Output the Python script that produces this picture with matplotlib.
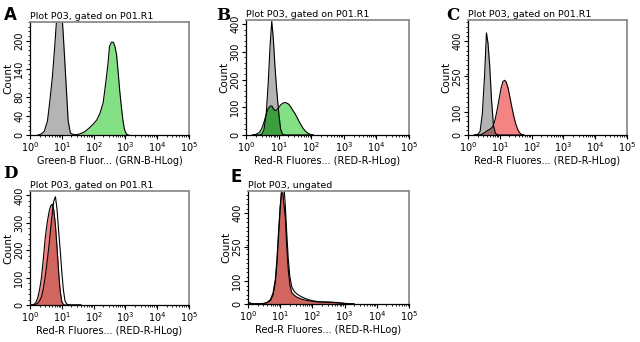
import matplotlib.pyplot as plt
import numpy as np
from matplotlib.ticker import LogLocator, MultipleLocator, FixedLocator, NullFormatter

# histogram bin positions are given in decades (log10 of fluorescence)

# panel A
a_gray_x = [0.25, 0.35, 0.45, 0.55, 0.62, 0.70, 0.78, 0.85, 0.92, 0.98, 1.04, 1.10, 1.15, 1.20, 1.27, 1.40]
a_gray_y = [0, 2, 8, 30, 70, 120, 190, 260, 300, 280, 220, 150, 90, 30, 4, 0]
a_green_x = [1.40, 1.55, 1.70, 1.85, 2.00, 2.10, 2.20, 2.30, 2.38, 2.45, 2.50, 2.56, 2.62, 2.67,
             2.72, 2.77, 2.82, 2.87, 2.92, 2.97, 3.03, 3.10]
a_green_y = [0, 2, 6, 14, 24, 32, 46, 68, 110, 150, 188, 197, 197, 188, 172, 135, 95, 62, 32, 12, 2, 0]

# panel B
b_x = [0.20, 0.30, 0.40, 0.48, 0.55, 0.62, 0.68, 0.74, 0.79, 0.84, 0.89, 0.94, 1.00, 1.06, 1.12,
       1.18, 1.24, 1.30, 1.36, 1.42, 1.50, 1.58, 1.66, 1.74, 1.82, 1.90, 1.98, 2.06]
b_gray = [0, 0, 0, 3, 18, 75, 185, 325, 410, 345, 245, 165, 85, 22, 3,
          0, 0, 0, 0, 0, 0, 0, 0, 0, 0, 0, 0, 0]
b_green = [0, 2, 8, 22, 45, 75, 95, 104, 105, 95, 88, 90, 98, 108, 114,
           117, 116, 112, 104, 92, 78, 60, 42, 26, 14, 6, 2, 0]

# panel C
c_x = [0.20, 0.30, 0.38, 0.45, 0.52, 0.58, 0.63, 0.68, 0.74, 0.80, 0.86, 0.92, 0.98, 1.04, 1.10,
       1.15, 1.20, 1.26, 1.32, 1.38, 1.44, 1.50, 1.56, 1.62, 1.68, 1.75]
c_gray = [0, 2, 15, 90, 250, 435, 390, 300, 150, 40, 8, 1, 0, 0, 0,
          0, 0, 0, 0, 0, 0, 0, 0, 0, 0, 0]
c_red = [0, 0, 1, 4, 10, 16, 20, 24, 30, 42, 70, 110, 155, 200, 228,
         233, 226, 200, 160, 118, 80, 48, 25, 10, 3, 0]

# panel D
d_x = [0.05, 0.12, 0.18, 0.24, 0.30, 0.36, 0.42, 0.48, 0.54, 0.60, 0.65, 0.70, 0.75, 0.80, 0.85,
       0.90, 0.95, 1.00, 1.05, 1.10, 1.16, 1.24, 1.35, 1.60]
d_red = [0, 2, 8, 25, 55, 100, 170, 245, 300, 340, 362, 368, 345, 290, 210,
         120, 50, 12, 2, 0, 0, 0, 0, 0]
d_ctrl = [0, 0, 2, 6, 15, 30, 60, 105, 160, 220, 280, 335, 380, 395, 350,
          270, 200, 120, 55, 15, 3, 0, 0, 0]

# panel E
e_x = [0.00, 0.05, 0.10, 0.20, 0.35, 0.50, 0.60, 0.70, 0.78, 0.85, 0.90, 0.95, 1.00, 1.04, 1.08,
       1.12, 1.16, 1.20, 1.25, 1.30, 1.36, 1.44, 1.52, 1.62, 1.75, 1.90, 2.05, 2.20, 2.40, 2.60,
       2.80, 3.00, 3.15, 3.30]
e_red = [6, 5, 2, 1, 1, 3, 8, 20, 50, 110, 200, 320, 430, 485, 490,
         430, 380, 260, 150, 85, 50, 38, 30, 24, 18, 14, 11, 9, 8, 7,
         5, 2, 1, 0]
e_ctrl = [7, 5, 2, 1, 1, 2, 6, 15, 40, 95, 180, 300, 420, 500, 530,
          510, 430, 320, 200, 120, 75, 55, 44, 35, 26, 18, 13, 10, 9, 8,
          6, 3, 1, 0]

fig = plt.figure(figsize=(6.4, 3.42), dpi=100)


def make_axes(x0, y0, x1, y1, ymax, yticks, yminor, title, xlabel, letter, lx, ly, lfam):
    ax = fig.add_axes([x0 / 640, 1 - y1 / 342, (x1 - x0) / 640, (y1 - y0) / 342])
    ax.set_xscale('log')
    ax.set_xlim(1, 1e5)
    ax.set_ylim(0, ymax)
    ax.xaxis.set_major_locator(LogLocator(base=10, numticks=10))
    ax.xaxis.set_minor_locator(LogLocator(base=10, subs=np.arange(2, 10), numticks=20))
    ax.xaxis.set_minor_formatter(NullFormatter())
    ax.yaxis.set_major_locator(FixedLocator(yticks))
    ax.yaxis.set_minor_locator(MultipleLocator(yminor))
    ax.tick_params(axis='both', which='major', direction='out', length=3, width=0.8,
                   labelsize=7, pad=1)
    ax.tick_params(axis='both', which='minor', direction='out', length=1.5, width=0.6)
    for lab in ax.get_yticklabels():
        lab.set_rotation(90)
        lab.set_va('center')
    for s in ['top', 'right']:
        ax.spines[s].set_color('#8c8c8c')
        ax.spines[s].set_linewidth(1.3)
    for s in ['left', 'bottom']:
        ax.spines[s].set_linewidth(0.9)
    ax.set_title(title, loc='left', fontsize=6.8, pad=2.5)
    ax.set_xlabel(xlabel, fontsize=7, labelpad=1.5)
    ax.set_ylabel('Count', fontsize=7.5, labelpad=1)
    fig.text(lx / 640, 1 - ly / 342, letter, fontsize=12, fontweight='bold', family=lfam,
             va='baseline')
    return ax


def lin(v):
    return 10 ** np.array(v, dtype=float)


gray = '#b4b4b4'
lgreen = '#84e084'
dgreen = '#3c9e3c'
lred = '#f48484'
dred = '#d0665f'

# A
ax = make_axes(30, 22, 189, 135, 240, [0, 40, 80, 140, 200], 10,
               'Plot P03, gated on P01.R1', 'Green-B Fluor... (GRN-B-HLog)', 'A', 4, 20, 'DejaVu Sans')
ax.fill_between(lin(a_gray_x), a_gray_y, color=gray, lw=0)
ax.plot(lin(a_gray_x), a_gray_y, color='k', lw=0.8)
ax.fill_between(lin(a_green_x), a_green_y, color=lgreen, lw=0)
ax.plot(lin(a_green_x), a_green_y, color='k', lw=0.8)

# B
ax = make_axes(246, 20, 409, 135, 415, [0, 100, 200, 300, 400], 20,
               'Plot P03, gated on P01.R1', 'Red-R Fluores... (RED-R-HLog)', 'B', 216, 20, 'DejaVu Serif')
bx = lin(b_x)
ax.fill_between(bx, b_gray, color=gray, lw=0)
ax.fill_between(bx, b_green, color=lgreen, lw=0)
ax.fill_between(bx, np.minimum(b_gray, b_green), color=dgreen, lw=0)
ax.plot(bx, b_gray, color='k', lw=0.8)
ax.plot(bx, b_green, color='k', lw=0.8)

# C
ax = make_axes(468, 20, 627, 135, 490, [0, 100, 250, 400], 20,
               'Plot P03, gated on P01.R1', 'Red-R Fluores... (RED-R-HLog)', 'C', 446, 20, 'DejaVu Serif')
cx = lin(c_x)
ax.fill_between(cx, c_gray, color=gray, lw=0)
ax.fill_between(cx, c_red, color=lred, lw=0)
ax.fill_between(cx, np.minimum(c_gray, c_red), color='#9c6a66', lw=0)
ax.plot(cx, c_gray, color='k', lw=0.8)
ax.plot(cx, c_red, color='k', lw=0.8)

# D
ax = make_axes(30, 191, 189, 305, 416, [0, 100, 200, 300, 400], 20,
               'Plot P03, gated on P01.R1', 'Red-R Fluores... (RED-R-HLog)', 'D', 3, 178, 'DejaVu Serif')
dx = lin(d_x)
ax.fill_between(dx, d_red, color=lred, lw=0)
ax.fill_between(dx, np.minimum(d_red, d_ctrl), color=dred, lw=0)
ax.plot(dx, d_red, color='k', lw=0.8)
ax.plot(dx, d_ctrl, color='k', lw=0.8)

# E
ax = make_axes(248, 191, 409, 304, 497, [0, 100, 250, 400], 20,
               'Plot P03, ungated', 'Red-R Fluores... (RED-R-HLog)', 'E', 231, 182, 'DejaVu Sans')
ex = lin(e_x)
ax.fill_between(ex, e_red, color=lred, lw=0)
ax.fill_between(ex, np.minimum(e_red, e_ctrl), color=dred, lw=0)
ax.plot(ex, e_red, color='k', lw=0.8)
ax.plot(ex, e_ctrl, color='k', lw=0.8)

fig.savefig('out.png', dpi=100)
